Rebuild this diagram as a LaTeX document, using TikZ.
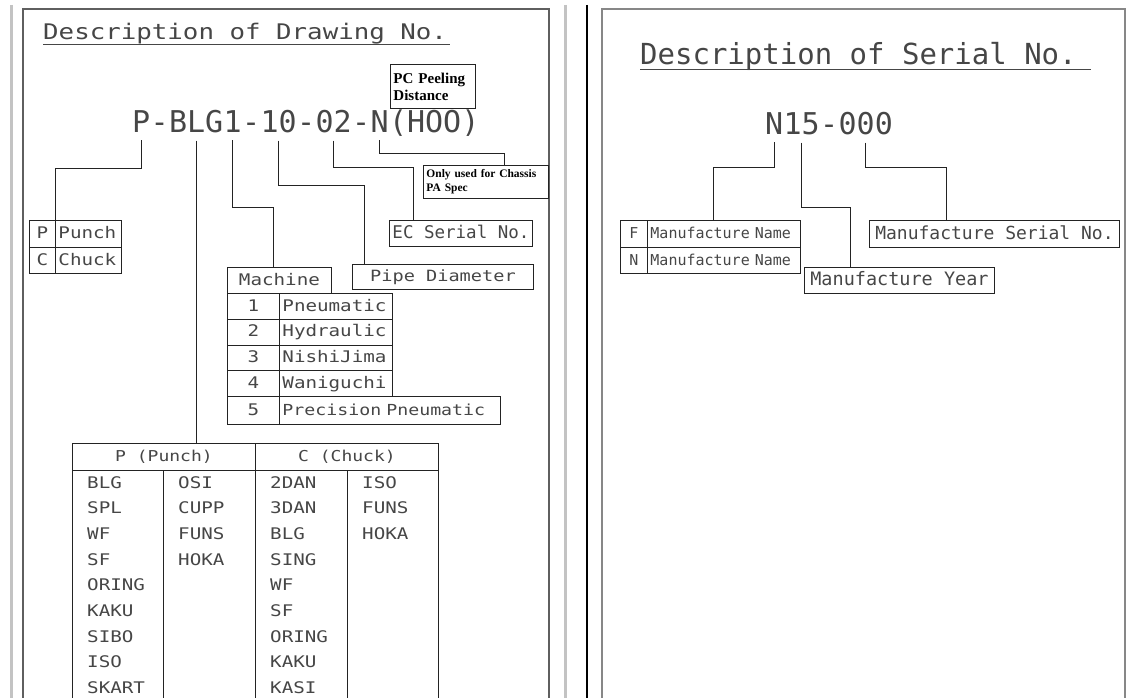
\documentclass[tikz,border=0pt]{standalone}
\usepackage{fontspec}
\usetikzlibrary{positioning}
\newfontfamily\cadfont{DejaVu Sans Mono}
\newfontfamily\cadwide[FakeStretch=1.2]{DejaVu Sans Mono}
\newfontfamily\notefont{Liberation Serif}
\definecolor{ink}{RGB}{70,70,70}
\definecolor{rule}{RGB}{35,35,35}
\definecolor{framedark}{RGB}{95,95,95}
\definecolor{framelight}{RGB}{135,135,135}
\definecolor{sheet}{RGB}{195,195,195}
\newcommand{\cadsize}[1]{\cadfont\fontsize{#1}{#1}\selectfont}
\newcommand{\widesize}[1]{\cadwide\fontsize{#1}{#1}\selectfont}
\tikzset{cell/.style={draw=rule,line width=0.9pt,anchor=north west,inner xsep=3pt,inner ysep=0pt,
    text=ink,text height=11.5pt,text depth=2pt,font=\widesize{16}},
  lead/.style={draw=rule,line width=0.9pt},
  codepart/.style={anchor=base west,inner sep=0pt,text=ink,font=\cadsize{30}},
  entry/.style={anchor=base west,inner sep=0pt,text=ink,font=\widesize{16}},
  note/.style={draw=rule,line width=0.9pt,anchor=north west,align=left,inner xsep=3pt,text=black}}

\begin{document}
\begin{tikzpicture}[x=1pt,y=-1pt]
\useasboundingbox (0,0) rectangle (1129,698);
% sheet edges
\draw[sheet,line width=3pt] (11,5) -- (11,698);
\draw[sheet,line width=3pt] (565,5) -- (565,698);
\draw[black,line width=1.4pt] (587,5) -- (587,698);
\draw[framedark,line width=1.8pt] (23,698) -- (23,9) -- (549,9) -- (549,698);
\draw[framelight,line width=2pt] (602,698) -- (602,9) -- (1125,9) -- (1125,698);

% drawing number
\node[anchor=base west,inner sep=0pt,text=ink,font=\widesize{21.5}] (dwgtitle) at (43,40) {Description of Drawing No.};
\draw[lead,ink] ([yshift=-4pt]dwgtitle.base west) -- ([yshift=-4pt,xshift=3pt]dwgtitle.base east);
\node[note,font=\notefont\bfseries\fontsize{15}{17}\selectfont,text width=79pt,minimum height=44pt] (peel) at (390,64) {PC Peeling\\Distance};

\node[codepart] (dP) at (132,132) {P};
\node[codepart] (dh1) at (dP.base east) {-};
\node[codepart] (dBLG) at (dh1.base east) {BLG};
\node[codepart] (dOne) at (dBLG.base east) {1};
\node[codepart] (dh2) at (dOne.base east) {-};
\node[codepart] (dTen) at (dh2.base east) {10};
\node[codepart] (dh3) at (dTen.base east) {-};
\node[codepart] (dTwo) at (dh3.base east) {02};
\node[codepart] (dh4) at (dTwo.base east) {-};
\node[codepart] (dN) at (dh4.base east) {N};
\node[codepart] (dHoo) at (dN.base east) {(HOO)};

% punch / chuck
\node[cell,minimum width=26pt,minimum height=27pt] (ppP) at (29,220) {P};
\node[cell,text width=60pt,align=left,minimum height=27pt] (ppPunch) at (55,220) {Punch};
\node[cell,minimum width=26pt,minimum height=26pt] (ppC) at (29,247) {C};
\node[cell,text width=60pt,align=left,minimum height=26pt] (ppChuck) at (55,247) {Chuck};

% machine
\node[cell,minimum width=104pt,minimum height=26pt] (mach) at (227,267) {Machine};
\foreach \n/\kind [count=\i from 0] in {1/Pneumatic,2/Hydraulic,3/NishiJima,4/Waniguchi} {
  \node[cell,minimum width=52pt,minimum height=25.75pt] (mn\n) at (227,293+25.75*\i) {\n};
  \node[cell,text width=107pt,align=left,minimum height=25.75pt] (mk\n) at (279,293+25.75*\i) {\kind};
}
\node[cell,minimum width=52pt,minimum height=28pt] (mn5) at (227,396) {5};
\node[cell,text width=215pt,align=left,minimum height=28pt,font=\widesize{15.2}] (mk5) at (279,396) {Precision Pneumatic};

\node[cell,minimum width=181pt,minimum height=25pt,font=\widesize{15.5}] (pipe) at (352,264) {Pipe Diameter};
\node[cell,minimum width=143pt,minimum height=26pt,font=\cadsize{17.5},text height=13pt] (ecser) at (389,220) {EC Serial No.};
\node[note,font=\notefont\bfseries\fontsize{11.5}{14}\selectfont,text width=119pt,minimum height=33pt] (chas) at (423,165) {Only used for Chassis\\PA Spec};

% type table
\node[cell,minimum width=183pt,minimum height=27pt,font=\widesize{15}] (hdP) at (72,443) {P (Punch)};
\node[cell,minimum width=183pt,minimum height=27pt,font=\widesize{15}] (hdC) at (255,443) {C (Chuck)};
\foreach \x in {72,163,255,347,438}
  \draw[lead] (\x,470) -- (\x,700);
\foreach \word [count=\k from 0] in {BLG,SPL,WF,SF,ORING,KAKU,SIBO,ISO,SKART}
  \node[entry] (pa\k) at (87,488+25.7*\k) {\word};
\foreach \word [count=\k from 0] in {OSI,CUPP,FUNS,HOKA}
  \node[entry] (pb\k) at (178,488+25.7*\k) {\word};
\foreach \word [count=\k from 0] in {2DAN,3DAN,BLG,SING,WF,SF,ORING,KAKU,KASI}
  \node[entry] (ca\k) at (270,488+25.7*\k) {\word};
\foreach \word [count=\k from 0] in {ISO,FUNS,HOKA}
  \node[entry] (cb\k) at (362,488+25.7*\k) {\word};

\draw[lead] ([yshift=-8pt]dP.south) -- ++(0,28) -| (ppP.north east);
\draw[lead] ([yshift=-8pt]dBLG.south) -- (dBLG.south |- hdP.north);
\draw[lead] ([yshift=-8pt]dOne.south) -- ++(0,67) -| ([xshift=-6pt]mach.north);
\draw[lead] ([yshift=-8pt]dTen.south) -- ++(0,45) -| ([xshift=12pt]pipe.north west);
\draw[lead] ([yshift=-8pt]dTwo.south) -- ++(0,27) -| ([xshift=24pt]ecser.north west);
\draw[lead] ([yshift=-8pt]dN.south) -- ++(0,13) -| ([xshift=-44pt]chas.north east);

% serial number
\node[anchor=base west,inner sep=0pt,text=ink,font=\cadsize{29}] (sertitle) at (640,65) {Description of Serial No.};
\draw[lead,ink] ([yshift=-4pt]sertitle.base west) -- ([yshift=-4pt,xshift=14pt]sertitle.base east);
\node[codepart] (sN) at (765,135) {N};
\node[codepart] (s15) at (sN.base east) {15};
\node[codepart] (sh) at (s15.base east) {-};
\node[codepart] (s000) at (sh.base east) {000};

\node[cell,minimum width=27pt,minimum height=27pt,font=\cadsize{15}] (fnF) at (620,220) {F};
\node[cell,text width=147pt,align=left,minimum height=27pt,font=\cadsize{15}] (fnName1) at (647,220) {Manufacture Name};
\node[cell,minimum width=27pt,minimum height=26pt,font=\cadsize{15}] (fnN) at (620,247) {N};
\node[cell,text width=147pt,align=left,minimum height=26pt,font=\cadsize{15}] (fnName2) at (647,247) {Manufacture Name};
\node[cell,minimum width=250pt,minimum height=27pt,font=\cadsize{18},text height=13pt] (mserial) at (869,220) {Manufacture Serial No.};
\node[cell,minimum width=190pt,minimum height=26pt,font=\cadsize{18.5},text height=13pt] (myear) at (804,267) {Manufacture Year};

\draw[lead] ([yshift=-7pt]sN.south) -- ++(0,25) -| ([xshift=-11pt]fnName1.north);
\draw[lead] ([yshift=-7pt]s15.south) -- ++(0,65) -| ([xshift=46pt]myear.north west);
\draw[lead] ([yshift=-7pt]s000.south) -- ++(0,25) -| ([xshift=77pt]mserial.north west);
\end{tikzpicture}
\end{document}
